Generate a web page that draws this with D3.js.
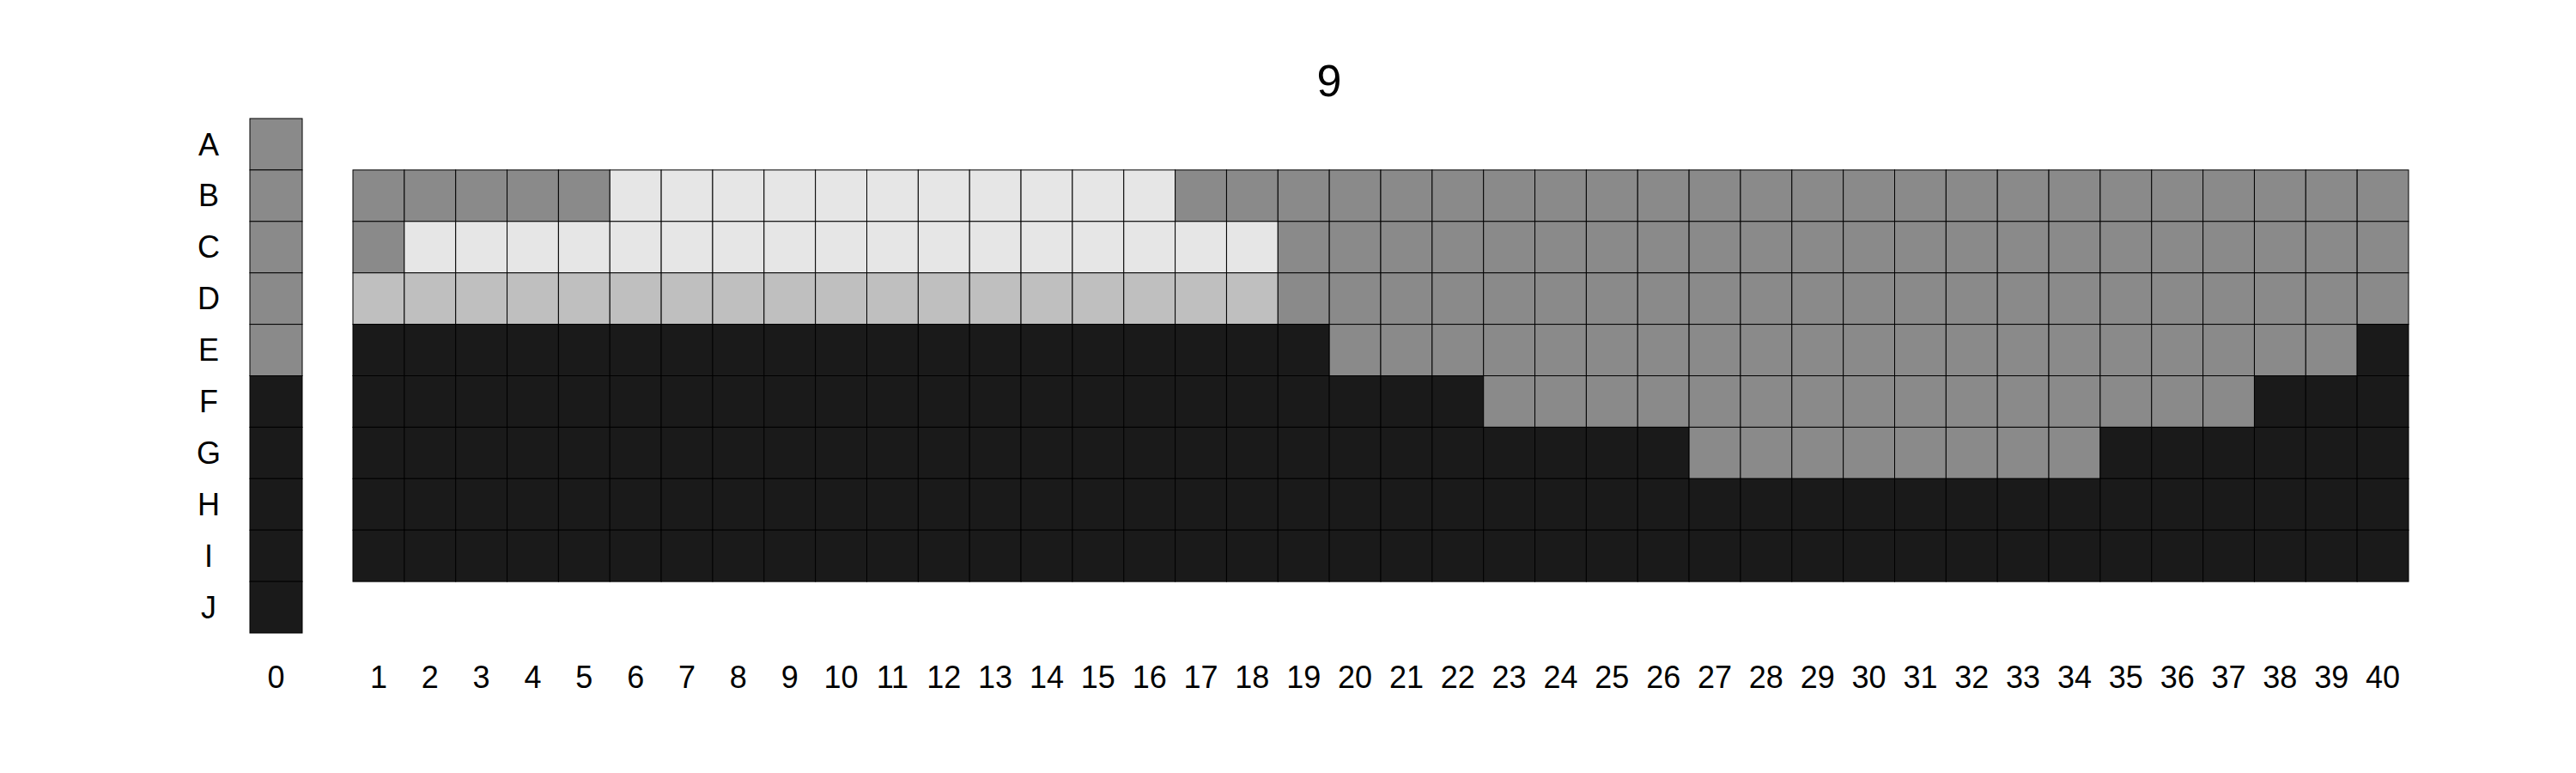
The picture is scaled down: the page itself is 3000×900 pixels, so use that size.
<!DOCTYPE html>
<html>
<head>
<meta charset="utf-8">
<script src="https://d3js.org/d3.v7.min.js"></script>
<style>
  body { margin: 0; background: #fff; }
  text { font-family: "Liberation Sans", Arial, sans-serif; }
</style>
</head>
<body>
<svg id="main" width="3000" height="900"></svg>
<script>
// levels: 0 = dark, 1 = mid grey, 2 = silver, 3 = light
var rowLabels = ['A', 'B', 'C', 'D', 'E', 'F', 'G', 'H', 'I', 'J'];
var gridRows = ['B', 'C', 'D', 'E', 'F', 'G', 'H', 'I'];
var colLabels = d3.range(1, 41);
var col0 = [1, 1, 1, 1, 1, 0, 0, 0, 0, 0];
var gridData = [
  '1111133333333333111111111111111111111111',
  '1333333333333333331111111111111111111111',
  '2222222222222222221111111111111111111111',
  '0000000000000000000111111111111111111110',
  '0000000000000000000000111111111111111000',
  '0000000000000000000000000011111111000000',
  '0000000000000000000000000000000000000000',
  '0000000000000000000000000000000000000000'
];
var levelColor = ['#1a1a1a', '#8a8a8a', '#bfbfbf', '#e6e6e6'];

var svg = d3.select('#main');
var y = d3.scaleBand().domain(rowLabels).range([138, 737]).padding(0);
var x = d3.scaleBand().domain(colLabels).range([411, 2805]).padding(0);
var x0 = d3.scaleBand().domain([0]).range([291, 352]);

svg.append('text').attr('x', 1548).attr('y', 112).attr('text-anchor', 'middle')
  .attr('font-size', 52).text('9');

// column 0
svg.selectAll('rect.c0').data(col0).enter().append('rect')
  .attr('x', x0(0)).attr('y', (d, i) => y(rowLabels[i]))
  .attr('width', x0.bandwidth()).attr('height', y.bandwidth())
  .attr('fill', d => levelColor[d]).attr('stroke', '#000').attr('stroke-width', 1);

// main grid
var cells = [];
gridData.forEach(function (row, r) {
  row.split('').forEach(function (v, c) {
    cells.push({ row: gridRows[r], col: colLabels[c], v: +v });
  });
});
svg.selectAll('rect.cell').data(cells).enter().append('rect')
  .attr('x', d => x(d.col)).attr('y', d => y(d.row))
  .attr('width', x.bandwidth()).attr('height', y.bandwidth())
  .attr('fill', d => levelColor[d.v]).attr('stroke', '#000').attr('stroke-width', 1);

// labels
svg.selectAll('text.row').data(rowLabels).enter().append('text')
  .attr('x', 243).attr('y', d => y(d) + y.bandwidth() / 2)
  .attr('dy', '0.35em').attr('text-anchor', 'middle').attr('font-size', 36).text(d => d);
svg.append('text').attr('x', x0(0) + x0.bandwidth() / 2).attr('y', 788)
  .attr('dy', '0.35em').attr('text-anchor', 'middle').attr('font-size', 36).text('0');
svg.selectAll('text.col').data(colLabels).enter().append('text')
  .attr('x', d => x(d) + x.bandwidth() / 2).attr('y', 788)
  .attr('dy', '0.35em').attr('text-anchor', 'middle').attr('font-size', 36).text(d => d);
</script>
</body>
</html>
